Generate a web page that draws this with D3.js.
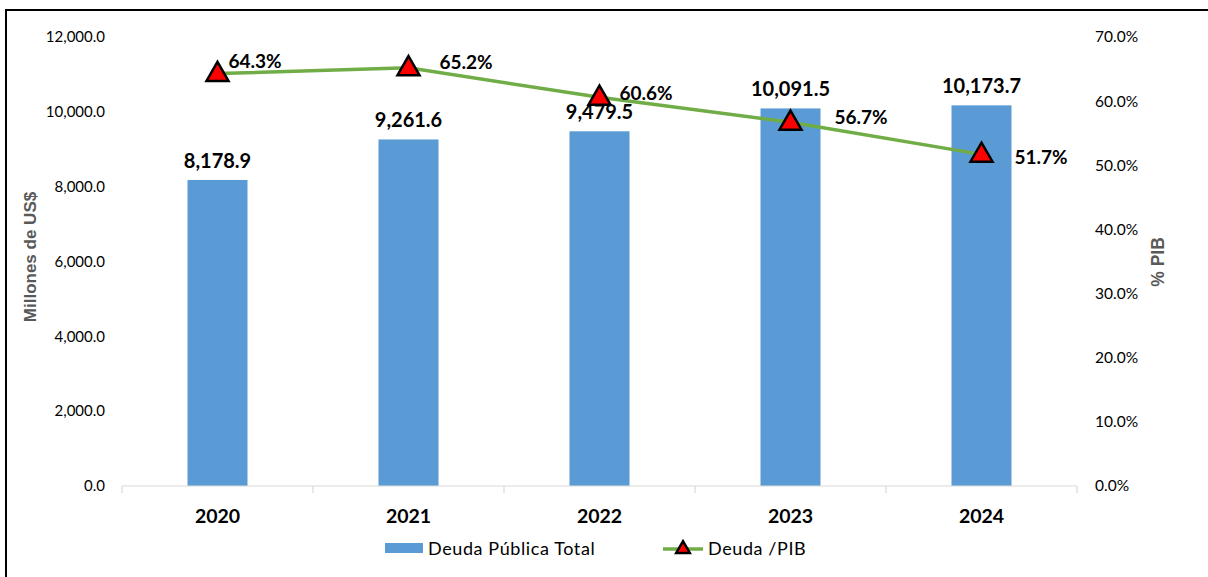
<!DOCTYPE html>
<html>
<head>
<meta charset="utf-8">
<script src="https://cdn.jsdelivr.net/npm/d3@7"></script>
<style>
  body { margin: 0; background: #fff; }
  svg { display: block; }
</style>
</head>
<body>
<div id="chart"></div>
<script>
const years = ["2020", "2021", "2022", "2023", "2024"];
const deuda = [8178.9, 9261.6, 9479.5, 10091.5, 10173.7];
const deudaPib = [64.3, 65.2, 60.6, 56.7, 51.7];
const leftTicks = [0, 2000, 4000, 6000, 8000, 10000, 12000];
const rightTicks = [0, 10, 20, 30, 40, 50, 60, 70];
// nudges for the % labels (Excel-style manual placement)
const pctNudge = [[11, -12], [31, -5], [20, -4], [44, -5], [33, 3]];

const W = 1208, H = 577;
const margin = { top: 37, right: 131, bottom: 91, left: 122 };
const font = "Lato, 'Noto Sans', sans-serif";

const svg = d3.select("#chart").append("svg")
    .attr("width", W)
    .attr("height", H);

// frame (left + top only visible)
svg.append("path")
    .attr("d", `M6,${H} L6,10 L${W},10`)
    .attr("fill", "none")
    .attr("stroke", "#000")
    .attr("stroke-width", 2);

const x = d3.scaleBand()
    .domain(years)
    .range([margin.left, W - margin.right])
    .paddingInner(0)
    .paddingOuter(0);

const y = d3.scaleLinear()
    .domain([0, 12000])
    .range([H - margin.bottom, margin.top]);

const y2 = d3.scaleLinear()
    .domain([0, 70])
    .range([H - margin.bottom, margin.top]);

const barW = 60;

// bars
svg.append("g")
    .attr("fill", "#5B9BD5")
    .selectAll("rect")
    .data(deuda)
    .join("rect")
    .attr("x", (d, i) => x(years[i]) + x.bandwidth() / 2 - barW / 2)
    .attr("y", d => y(d))
    .attr("width", barW)
    .attr("height", d => y(0) - y(d));

// x axis
const xAxis = svg.append("g")
    .attr("transform", `translate(0,${y(0)})`);
xAxis.append("line")
    .attr("x1", margin.left).attr("x2", W - margin.right)
    .attr("stroke", "#d9d9d9").attr("stroke-width", 1.2);
xAxis.selectAll("line.tk")
    .data(years.concat(["end"]))
    .join("line")
    .attr("class", "tk")
    .attr("x1", (d, i) => i < years.length ? x(d) : W - margin.right)
    .attr("x2", (d, i) => i < years.length ? x(d) : W - margin.right)
    .attr("y1", 0).attr("y2", 7)
    .attr("stroke", "#d9d9d9").attr("stroke-width", 1.2);
xAxis.selectAll("text")
    .data(years)
    .join("text")
    .attr("x", d => x(d) + x.bandwidth() / 2)
    .attr("y", 37)
    .attr("text-anchor", "middle")
    .attr("font-family", font)
    .attr("font-weight", "bold")
    .attr("font-size", 19.5)
    .attr("fill", "#000")
    .text(d => d);

// left axis labels
const fmt1 = d3.format(",.1f");
svg.append("g")
    .selectAll("text")
    .data(leftTicks)
    .join("text")
    .attr("x", 105)
    .attr("y", d => y(d))
    .attr("dy", "0.35em")
    .attr("text-anchor", "end")
    .attr("font-family", font)
    .attr("font-size", 15)
    .attr("fill", "#000")
    .text(d => fmt1(d));

// right axis labels
svg.append("g")
    .selectAll("text")
    .data(rightTicks)
    .join("text")
    .attr("x", 1095)
    .attr("y", d => y2(d))
    .attr("dy", "0.35em")
    .attr("text-anchor", "start")
    .attr("font-family", font)
    .attr("font-size", 15.5)
    .attr("fill", "#000")
    .text(d => d.toFixed(1) + "%");

// axis titles
svg.append("text")
    .attr("transform", "translate(36,257) rotate(-90)")
    .attr("text-anchor", "middle")
    .attr("font-family", "'Liberation Sans', Arial, sans-serif")
    .attr("font-weight", "bold")
    .attr("font-size", 17)
    .attr("fill", "#595959")
    .text("Millones de US$");

svg.append("text")
    .attr("transform", "translate(1164,262) rotate(-90)")
    .attr("text-anchor", "middle")
    .attr("font-family", "'Liberation Sans', Arial, sans-serif")
    .attr("font-weight", "bold")
    .attr("font-size", 17.5)
    .attr("fill", "#595959")
    .text("% PIB");

// bar value labels
svg.append("g")
    .selectAll("text")
    .data(deuda)
    .join("text")
    .attr("x", (d, i) => x(years[i]) + x.bandwidth() / 2)
    .attr("y", d => y(d) - 12)
    .attr("text-anchor", "middle")
    .attr("font-family", font)
    .attr("font-weight", "bold")
    .attr("font-size", 20)
    .attr("fill", "#000")
    .text(d => fmt1(d));

// line
const cx = i => x(years[i]) + x.bandwidth() / 2;
const line = d3.line()
    .x((d, i) => cx(i))
    .y(d => y2(d));

svg.append("path")
    .datum(deudaPib)
    .attr("d", line)
    .attr("fill", "none")
    .attr("stroke", "#70AD47")
    .attr("stroke-width", 3.5);

const tri = d3.symbol().type(d3.symbolTriangle).size(210);

svg.append("g")
    .selectAll("path")
    .data(deudaPib)
    .join("path")
    .attr("d", tri)
    .attr("transform", (d, i) => `translate(${cx(i)},${y2(d) + 1})`)
    .attr("fill", "#FF0000")
    .attr("stroke", "#000")
    .attr("stroke-width", 2.5)
    .attr("stroke-linejoin", "miter");

svg.append("g")
    .selectAll("text")
    .data(deudaPib)
    .join("text")
    .attr("x", (d, i) => cx(i) + pctNudge[i][0])
    .attr("y", (d, i) => y2(d) + pctNudge[i][1])
    .attr("dy", "0.35em")
    .attr("text-anchor", "start")
    .attr("font-family", font)
    .attr("font-weight", "bold")
    .attr("font-size", 19)
    .attr("fill", "#000")
    .text(d => d.toFixed(1) + "%");

// legend
const lg = svg.append("g").attr("font-family", font).attr("font-size", 18)
    .attr("letter-spacing", 0.6).attr("fill", "#000");
lg.append("rect")
    .attr("x", 385).attr("y", 543).attr("width", 38).attr("height", 10)
    .attr("fill", "#5B9BD5");
lg.append("text")
    .attr("x", 428).attr("y", 549).attr("dy", "0.35em")
    .text("Deuda Pública Total");
lg.append("line")
    .attr("x1", 663).attr("x2", 703).attr("y1", 549).attr("y2", 549)
    .attr("stroke", "#70AD47").attr("stroke-width", 3.5);
lg.append("path")
    .attr("d", d3.symbol().type(d3.symbolTriangle).size(80))
    .attr("transform", "translate(683,549)")
    .attr("fill", "#FF0000")
    .attr("stroke", "#000")
    .attr("stroke-width", 2.5);
lg.append("text")
    .attr("x", 708).attr("y", 549).attr("dy", "0.35em")
    .text("Deuda /PIB");
</script>
</body>
</html>
